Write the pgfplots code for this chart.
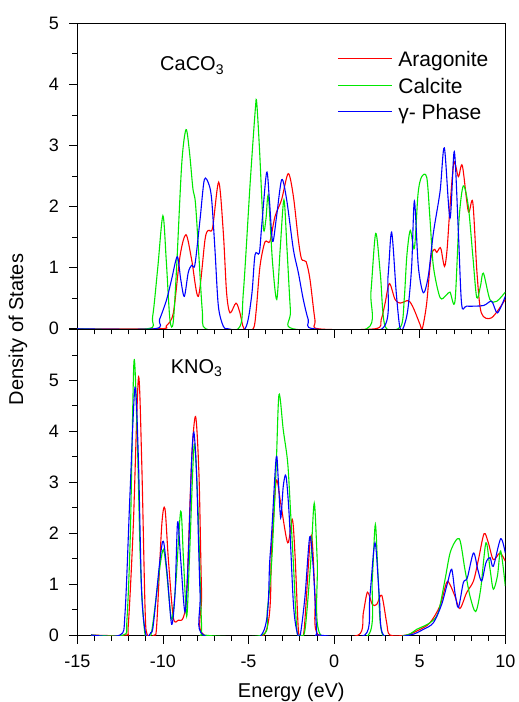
\documentclass[border=0pt]{standalone}
\usepackage{fontspec}
\setmainfont{Liberation Sans}
\usepackage{pgfplots}
\pgfplotsset{compat=1.18}
\definecolor{cAra}{RGB}{255,0,0}
\definecolor{cCal}{RGB}{0,232,0}
\definecolor{cGam}{RGB}{0,0,255}
\newcommand{\lstrut}{\rule[-7pt]{0pt}{24.5pt}}
\begin{document}
\begin{tikzpicture}
\pgfplotsset{
  dosstyle/.style={
    scale only axis, width=428pt, height=306.2pt,
    xmin=-15, xmax=10,
    xtick={-15,-10,...,10},
    minor x tick num=4, minor y tick num=1,
    tick align=outside, xtick pos=left, ytick pos=left,
    major tick length=8pt, minor tick length=5pt,
    tick style={black, line width=0.8pt},
    axis line style={line width=1pt},
    tick label style={font=\fontsize{18}{18}\selectfont},
    yticklabel style={xshift=-7pt},
    xticklabel style={yshift=-8pt},
    /pgf/number format/assume math mode=true,
    every axis plot/.append style={line width=1.1pt, smooth, tension=0.5, no markers},
  }
}
\begin{axis}[dosstyle, name=top, ymin=-0.012, ymax=5, ytick={0,...,5}, xticklabels={},
  legend cell align=left,
  legend style={draw=none, fill=none, at={(0.600,0.93)}, anchor=north west,
    font=\fontsize{21}{25}\selectfont, row sep=3.7pt},
  legend image code/.code={\draw[#1, line width=1.1pt] (0pt,0pt) -- (54pt,0pt); \path (58pt,0pt);}]
\addplot[cAra] coordinates {
(-15,0) (-10.2,0) (-9.8,0.05) (-9.39,0.26) (-9.0,1.19) (-8.65,1.54) (-8.32,1.13) (-7.93,0.53)
(-7.54,1.46) (-7.35,1.61) (-7.1,1.65) (-6.74,2.40) (-6.47,1.57) (-6.28,0.59) (-6.08,0.26)
(-5.73,0.42) (-5.5,0.26) (-5.26,0.0) (-4.72,0) (-4.55,0.3) (-4.33,1.02) (-4.04,1.42) (-3.75,1.43)
(-3.45,1.84) (-3.07,2.11) (-2.68,2.54) (-2.38,2.17) (-2.09,1.46) (-1.9,1.14) (-1.64,1.1)
(-1.41,0.81) (-1.12,0.15) (-0.92,0) (2.4,0) (2.75,0.15) (2.98,0.42) (3.23,0.74) (3.56,0.48) (3.86,0.42)
(4.34,0.46) (4.63,0.34) (5.02,0.07) (5.15,0.0) (5.4,0.4) (5.65,1.15) (5.85,1.3) (6.0,1.25)
(6.15,1.32) (6.25,1.3) (6.45,1.02) (6.6,1.3) (6.77,2.0) (7.0,2.72) (7.26,2.49) (7.49,2.67)
(7.84,1.92) (8.1,2.07) (8.35,0.9) (8.6,0.26) (9.2,0.18) (10,0.48)};
\addlegendentry{\lstrut Aragonite}
\addplot[cCal] coordinates {
(-15,0) (-10.9,0) (-10.6,0.2) (-10.3,1.0) (-10.0,1.85) (-9.8,1.1) (-9.59,0.15) (-9.4,0.1)
(-9.2,1.0) (-8.9,2.7) (-8.65,3.26) (-8.45,2.9) (-8.25,2.3) (-8.1,2.06) (-7.9,1.2) (-7.7,0.3)
(-7.5,0) (-5.6,0) (-5.3,0.6) (-4.9,2.4) (-4.6,3.6) (-4.52,3.70) (-4.35,2.9) (-4.13,1.65)
(-3.98,1.8) (-3.84,2.17) (-3.6,1.1) (-3.35,0.48) (-3.15,1.3) (-2.93,2.11) (-2.75,1.3)
(-2.55,0.3) (-2.4,0) (1.9,0) (2.15,0.6) (2.43,1.56) (2.7,0.9) (2.98,0.04) (3.9,0.04) (4.1,0.5)
(4.25,1.2) (4.45,1.61) (4.69,1.32) (4.9,2.2) (5.1,2.48) (5.41,2.48) (5.6,1.8) (5.8,1.02)
(6.19,0.51) (6.55,0.55) (6.77,0.60) (7.06,0.45) (7.3,1.8) (7.55,2.34) (7.84,2.0) (8.1,1.2)
(8.33,0.51) (8.55,0.7) (8.72,0.91) (9.1,0.48) (9.5,0.45) (10,0.6)};
\addlegendentry{\lstrut Calcite}
\addplot[cGam] coordinates {
(-15,0) (-10.5,0) (-10.2,0.15) (-9.78,0.48) (-9.49,0.81) (-9.16,1.18) (-8.96,0.81) (-8.75,0.53)
(-8.52,0.92) (-8.32,1.04) (-8.13,1.05) (-7.83,1.79) (-7.58,2.44) (-7.31,2.36) (-7.15,2.11)
(-6.96,1.30) (-6.76,0.37) (-6.47,0.04) (-6.2,0) (-5.2,0) (-4.82,0.53) (-4.62,1.21) (-4.37,1.24)
(-4.23,1.68) (-3.94,2.56) (-3.78,2.11) (-3.59,1.43) (-3.36,1.84) (-3.06,2.44) (-2.77,2.11)
(-2.38,1.30) (-2.09,0.92) (-1.8,0.48) (-1.51,0.15) (-1.2,0) (2.8,0) (3.15,0.86) (3.36,1.58)
(3.63,0.59) (3.83,0.04) (4.02,0) (4.3,0.3) (4.53,1.02) (4.69,2.09) (4.92,1.02) (5.21,0.59)
(5.5,0.86) (5.8,1.57) (6.19,2.25) (6.44,2.96) (6.77,1.81) (7.02,2.90) (7.26,1.57) (7.45,0.40)
(7.74,0.37) (8.72,0.38) (9.2,0.45) (9.54,0.26) (10,0.53)};
\addlegendentry{\lstrut γ- Phase}
\node[anchor=base west, inner sep=0pt, font=\fontsize{20}{24}\selectfont] at (axis cs:-10.17,4.22) {CaCO\textsubscript{3}};
\end{axis}
\begin{axis}[dosstyle, name=bot, at={(top.south west)}, anchor=north west,
  ymin=-0.014, ymax=6, ytick={0,...,6}, yticklabels={0,1,2,3,4,5,{}}]
\addplot[cAra] coordinates {
(-14.2,0) (-12.2,0) (-12.02,0.2) (-11.73,2.14) (-11.43,5.05) (-11.24,3.44) (-11.04,0.5)
(-10.91,0) (-10.5,0) (-10.36,0.2) (-10.07,2.14) (-9.88,2.48) (-9.68,1.48) (-9.39,0.34)
(-9.1,0.29) (-8.81,0.34) (-8.61,0.83) (-8.32,3.44) (-8.09,4.29) (-7.89,3.12) (-7.74,0.83)
(-7.6,0) (-4.1,0) (-3.65,1.75) (-3.38,3.02) (-3.12,2.59) (-2.71,1.81) (-2.44,2.27) (-2.28,1.55)
(-2.09,0.11) (-1.95,0) (-1.75,0.1) (-1.41,1.81) (-1.27,1.81) (-1.11,0.76) (-0.92,0) (1.42,0)
(1.71,0.44) (1.95,0.84) (2.23,0.6) (2.49,0.6) (2.78,0.78) (3.07,0.24) (3.26,0) (4.24,0)
(5.02,0.11) (5.6,0.24) (6.18,0.57) (6.57,1.03) (6.77,0.99) (7.06,0.76) (7.35,0.52) (7.74,0.83)
(8.14,1.06) (8.43,1.48) (8.76,1.99) (9.01,1.81) (9.3,1.48) (9.69,1.61) (10,1.45)};
\addplot[cCal] coordinates {
(-14.2,0) (-12.3,0) (-12.1,0.3) (-11.9,2.0) (-11.69,5.37) (-11.5,3.9) (-11.3,1.3) (-11.04,0)
(-10.7,0) (-10.36,0.83) (-10.15,1.4) (-9.97,1.68) (-9.8,1.3) (-9.49,0.31) (-9.25,1.0)
(-8.96,2.43) (-8.8,1.5) (-8.61,0.37) (-8.45,1.5) (-8.17,3.74) (-7.95,2.5) (-7.74,0.18)
(-7.6,0) (-4.2,0) (-3.9,0.5) (-3.65,1.42) (-3.39,3.25) (-3.22,4.72) (-2.97,4.03) (-2.71,3.38)
(-2.54,2.4) (-2.38,1.42) (-2.18,0.11) (-2.0,0) (-1.7,0.1) (-1.37,1.42) (-1.16,2.59)
(-0.98,1.42) (-0.79,0) (2.0,0) (2.23,1.09) (2.41,2.17) (2.58,1.09) (2.84,0) (4.24,0)
(4.82,0.11) (5.6,0.24) (6.08,0.44) (6.48,1.09) (6.81,1.65) (7.31,1.89) (7.64,1.29) (7.94,0.76)
(8.27,0.46) (8.56,0.9) (8.87,1.81) (9.11,1.29) (9.3,0.9) (9.54,1.16) (9.73,1.65) (10,0.96)};
\addplot[cGam] coordinates {
(-14.2,0) (-12.5,0) (-12.21,0.44) (-11.92,2.79) (-11.63,4.86) (-11.43,3.44) (-11.24,0.83)
(-10.99,0) (-10.7,0.05) (-10.56,0.2) (-10.17,1.48) (-9.97,1.84) (-9.74,1.16) (-9.49,0.21)
(-9.29,0.83) (-9.14,2.22) (-8.96,1.48) (-8.71,0.45) (-8.52,1.48) (-8.32,3.44) (-8.19,3.98)
(-8.03,3.12) (-7.83,0.83) (-7.64,0) (-4.25,0) (-3.74,1.55) (-3.39,3.46) (-3.26,3.05)
(-3.12,2.3) (-2.97,2.92) (-2.81,3.12) (-2.62,2.33) (-2.38,0.63) (-2.18,0.08) (-1.98,0)
(-1.7,0.76) (-1.42,1.93) (-1.21,1.29) (-1.02,0.11) (-0.86,0) (1.8,0) (2.09,0.76) (2.39,1.81)
(2.64,0.76) (2.88,0) (4.43,0) (5.21,0.11) (5.8,0.24) (6.28,0.6) (6.63,1.03) (6.87,1.29)
(7.06,0.83) (7.26,0.54) (7.55,1.03) (7.78,1.12) (8.14,1.61) (8.39,1.29) (8.62,1.06)
(8.87,1.42) (9.11,1.52) (9.3,1.35) (9.73,1.89) (10,1.61)};
\node[anchor=base west, inner sep=0pt, font=\fontsize{20}{24}\selectfont] at (axis cs:-9.55,5.13) {KNO\textsubscript{3}};
\end{axis}
\node[anchor=base, font=\fontsize{20}{24}\selectfont] at ([yshift=-61.3pt]bot.south) {Energy (eV)};
\node[rotate=90, font=\fontsize{20}{24}\selectfont] at ([xshift=-59.3pt]top.south west) {Density of States};
\pgfresetboundingbox
\path[use as bounding box] ([xshift=-77.3pt,yshift=23.3pt]top.north west) rectangle ([xshift=12.7pt,yshift=-66.3pt]bot.south east);
\end{tikzpicture}
\end{document}
